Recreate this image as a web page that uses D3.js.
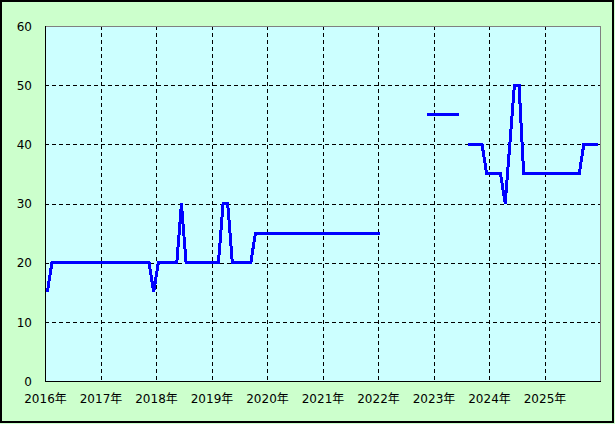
<!DOCTYPE html>
<html>
<head>
<meta charset="utf-8">
<script src="https://cdn.jsdelivr.net/npm/d3@7"></script>
<style>
  html, body { margin: 0; padding: 0; background: #fff; }
  svg { display: block; }
  text { font-family: "DejaVu Sans", "Noto Sans CJK JP", sans-serif; font-size: 12px; fill: #000; }
</style>
</head>
<body>
<svg id="chart" width="615" height="424"></svg>
<script>
// ---- data (monthly values, null = no data) ----
const years = [2016, 2017, 2018, 2019, 2020, 2021, 2022, 2023, 2024, 2025];
const v2016 = [15, 20, 20, 20, 20, 20, 20, 20, 20, 20, 20, 20];
const v2017 = [20, 20, 20, 20, 20, 20, 20, 20, 20, 20, 20, 15];
const v2018 = [20, 20, 20, 20, 20, 30, 20, 20, 20, 20, 20, 20];
const v2019 = [20, 20, 30, 30, 20, 20, 20, 20, 20, 25, 25, 25];
const v2020 = [25, 25, 25, 25, 25, 25, 25, 25, 25, 25, 25, 25];
const v2021 = [25, 25, 25, 25, 25, 25, 25, 25, 25, 25, 25, 25];
const v2022 = [25, null, null, null, null, null, null, null, null, null, 45, 45];
const v2023 = [45, 45, 45, 45, 45, 45, null, 40, 40, 40, 40, 35];
const v2024 = [35, 35, 35, 30, 40, 50, 50, 35, 35, 35, 35, 35];
const v2025 = [35, 35, 35, 35, 35, 35, 35, 35, 40, 40, 40, 40];
const yearValues = [v2016, v2017, v2018, v2019, v2020, v2021, v2022, v2023, v2024, v2025];
const yTicks = [0, 10, 20, 30, 40, 50, 60];
const xTicks = [2016, 2017, 2018, 2019, 2020, 2021, 2022, 2023, 2024, 2025];

const data = [];
years.forEach((y, i) => {
  yearValues[i].forEach((v, m) => data.push({ t: y + (m + 0.5) / 12, v: v }));
});

// ---- layout ----
const svg = d3.select("#chart");
const W = 615, H = 424;
const L = 45, R = 600, T = 26, B = 381;

svg.append("rect").attr("x", 0).attr("y", 0).attr("width", W).attr("height", H).attr("fill", "#CCFFCC");
svg.append("rect").attr("x", 1).attr("y", 1).attr("width", 612).attr("height", 421)
  .attr("fill", "none").attr("stroke", "#000").attr("stroke-width", 2);

const x = d3.scaleLinear().domain([2016, 2026]).range([L, R]);
const y = d3.scaleLinear().domain([0, 60]).range([B, T]);

svg.append("rect").attr("x", L).attr("y", T).attr("width", R - L).attr("height", B - T).attr("fill", "#CCFFFF");

// grid
const g = svg.append("g").attr("shape-rendering", "crispEdges");
g.selectAll("line.hg").data(yTicks.filter(d => d > 0 && d < 60)).join("line")
  .attr("x1", L).attr("x2", R)
  .attr("y1", d => Math.round(y(d)) + 0.5).attr("y2", d => Math.round(y(d)) + 0.5)
  .attr("stroke", "#000").attr("stroke-dasharray", "4,3");
g.selectAll("line.vg").data(xTicks.filter(d => d > 2016)).join("line")
  .attr("y1", T).attr("y2", B)
  .attr("x1", d => Math.round(x(d)) + 0.5).attr("x2", d => Math.round(x(d)) + 0.5)
  .attr("stroke", "#000").attr("stroke-dasharray", "4,3");

// frame
g.append("line").attr("x1", L).attr("x2", R + 1).attr("y1", T + 0.5).attr("y2", T + 0.5).attr("stroke", "#808080");
g.append("line").attr("x1", R + 0.5).attr("x2", R + 0.5).attr("y1", T).attr("y2", B).attr("stroke", "#808080");
g.append("line").attr("x1", L + 0.5).attr("x2", L + 0.5).attr("y1", T).attr("y2", B + 1).attr("stroke", "#000");
g.append("line").attr("x1", L).attr("x2", R + 1).attr("y1", B + 0.5).attr("y2", B + 0.5).attr("stroke", "#000");

// axes labels via d3 axes
const yAxis = d3.axisLeft(y).tickValues(yTicks).tickSize(0).tickPadding(13);
const ya = svg.append("g").attr("transform", `translate(${L},0)`).call(yAxis);
ya.select(".domain").remove();
ya.selectAll("text").attr("font-family", null).attr("font-size", null).attr("dy", "0.36em");

const xAxis = d3.axisBottom(x).tickValues(xTicks).tickSize(0).tickPadding(13).tickFormat(d => d + "年");
const xa = svg.append("g").attr("transform", `translate(0,${B})`).call(xAxis);
xa.select(".domain").remove();
xa.selectAll("text").attr("font-family", null).attr("font-size", null);

// line
const line = d3.line().defined(d => d.v != null).x(d => x(d.t)).y(d => y(d.v));
svg.append("path").datum(data).attr("d", line)
  .attr("fill", "none").attr("stroke", "#0000FF").attr("stroke-width", 3)
  .attr("shape-rendering", "crispEdges");
</script>
</body>
</html>
